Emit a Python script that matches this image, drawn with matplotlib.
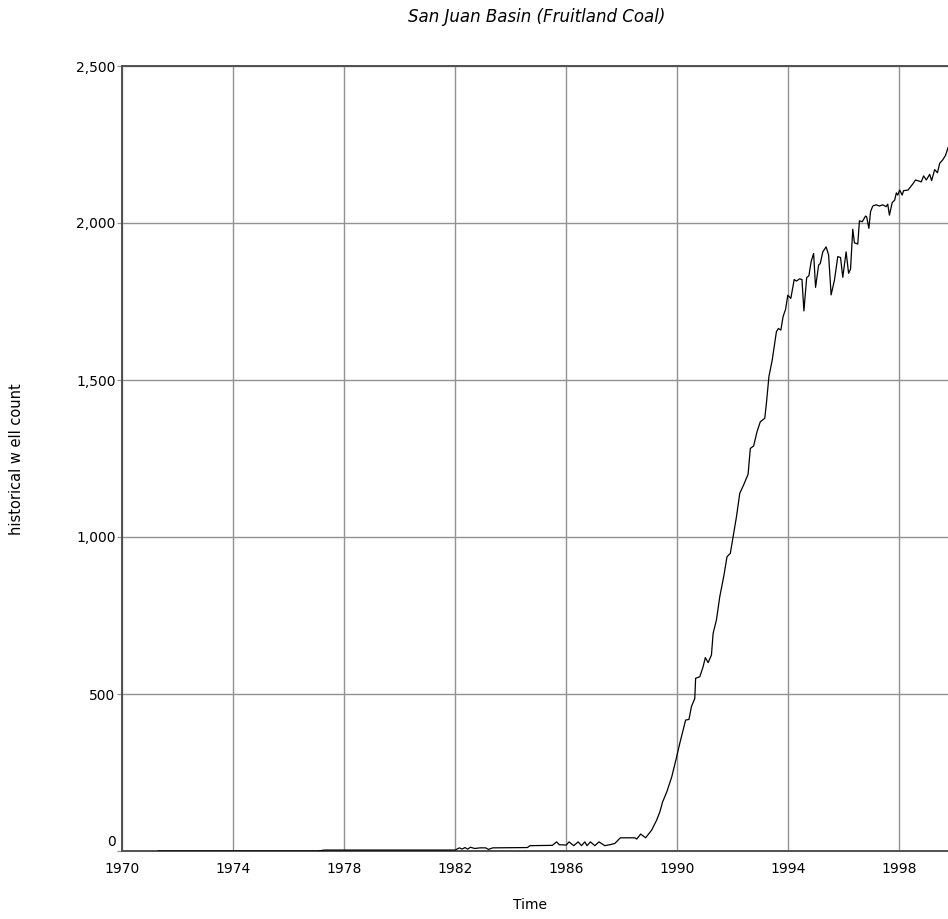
import matplotlib
matplotlib.use("Agg")
import matplotlib.pyplot as plt
from matplotlib.ticker import FuncFormatter
from matplotlib.transforms import ScaledTranslation

plt.rcParams['font.family'] = ['DejaVu Sans']

# historical well count (decimal year, count)
years = [1971.30, 1977.05, 1977.30, 1982.00, 1982.15, 1982.25, 1982.35, 1982.45,
         1982.55, 1982.70, 1982.90, 1983.10, 1983.20, 1983.35, 1984.60, 1984.70,
         1985.50, 1985.65, 1985.75, 1986.00, 1986.10, 1986.27, 1986.43, 1986.55,
         1986.67, 1986.75, 1986.87, 1987.03, 1987.18, 1987.39, 1987.57, 1987.75,
         1987.87, 1987.95, 1988.47, 1988.54, 1988.68, 1988.86, 1989.08, 1989.26,
         1989.37, 1989.47, 1989.62, 1989.80, 1989.95, 1990.09, 1990.30, 1990.42,
         1990.51, 1990.63, 1990.66, 1990.81, 1990.93, 1991.01, 1991.11, 1991.23,
         1991.29, 1991.41, 1991.53, 1991.67, 1991.79, 1991.91, 1992.01, 1992.13,
         1992.25, 1992.39, 1992.55, 1992.63, 1992.75, 1992.87, 1992.99, 1993.15,
         1993.21, 1993.30, 1993.42, 1993.57, 1993.64, 1993.73, 1993.81, 1993.90,
         1993.98, 1994.09, 1994.21, 1994.29, 1994.40, 1994.49, 1994.56, 1994.66,
         1994.74, 1994.82, 1994.91, 1994.98, 1995.09, 1995.15, 1995.24, 1995.36,
         1995.45, 1995.54, 1995.66, 1995.78, 1995.88, 1995.96, 1996.08, 1996.17,
         1996.24, 1996.32, 1996.38, 1996.50, 1996.56, 1996.66, 1996.78, 1996.82,
         1996.90, 1996.96, 1997.04, 1997.16, 1997.28, 1997.40, 1997.52, 1997.58,
         1997.64, 1997.74, 1997.83, 1997.89, 1997.94, 1998.01, 1998.10, 1998.15,
         1998.31, 1998.48, 1998.58, 1998.79, 1998.87, 1998.97, 1999.09, 1999.16,
         1999.27, 1999.37, 1999.45, 1999.55, 1999.66, 1999.75]
wells = [0, 0, 3, 3, 10, 6, 11, 6,
         12, 8, 10, 10, 5, 10, 11, 17,
         18, 29, 20, 19, 29, 17, 29, 17,
         29, 17, 29, 17, 29, 17, 20, 24,
         35, 42, 42, 38, 54, 42, 67, 99,
         124, 156, 188, 236, 290, 343, 417, 419,
         460, 486, 550, 555, 587, 616, 600, 624,
         693, 736, 810, 873, 937, 948, 1001, 1064,
         1139, 1166, 1200, 1282, 1290, 1335, 1367, 1378,
         1426, 1511, 1564, 1654, 1664, 1659, 1702, 1725,
         1770, 1760, 1820, 1815, 1822, 1820, 1720, 1826,
         1832, 1877, 1903, 1795, 1866, 1871, 1908, 1924,
         1898, 1771, 1818, 1893, 1890, 1827, 1908, 1840,
         1853, 1980, 1937, 1933, 2007, 2004, 2022, 2020,
         1983, 2036, 2054, 2058, 2054, 2058, 2052, 2060,
         2025, 2065, 2073, 2096, 2089, 2105, 2089, 2103,
         2105, 2124, 2137, 2131, 2150, 2137, 2155, 2135,
         2170, 2160, 2190, 2200, 2215, 2240]

xticks = [1970, 1974, 1978, 1982, 1986, 1990, 1994, 1998]
yticks = [0, 500, 1000, 1500, 2000, 2500]

fig = plt.figure(figsize=(9.48, 9.19), dpi=100)
ax = fig.add_axes([122/948, 1 - 851/919, 1 - 122/948, (851 - 66)/919])

ax.plot(years, wells, color='black', lw=0.9, zorder=3)

ax.set_xlim(1970, 1999.75)
ax.set_ylim(0, 2500)
ax.set_xticks(xticks)
ax.set_yticks(yticks)
ax.yaxis.set_major_formatter(FuncFormatter(lambda v, p: '{:,.0f}'.format(v)))
ax.grid(True, color='#929292', lw=1.0)
ax.set_axisbelow(True)

for s in ['left', 'bottom', 'top']:
    ax.spines[s].set_color('#505050')
    ax.spines[s].set_linewidth(1.4)
ax.spines['right'].set_visible(False)

ax.tick_params(axis='x', length=0, pad=8, labelsize=10)
ax.tick_params(axis='y', length=3.6, width=0.9, color='#929292', pad=1, labelsize=10)

# the "0" label sits a little above the axis line
zero = ax.get_yticklabels()[0]
zero.set_transform(zero.get_transform() + ScaledTranslation(0, 11/100, fig.dpi_scale_trans))

fig.text(537/948, 1 - 17/919, 'San Juan Basin (Fruitland Coal)', ha='center', va='center',
         style='italic', fontsize=12)
fig.text(17/948, 1 - 459/919, 'historical w ell count', rotation=90, ha='center',
         va='center', fontsize=10.5)
fig.text(530/948, 1 - 905/919, 'Time', ha='center', va='center', fontsize=10)

fig.savefig('out.png', dpi=100)
